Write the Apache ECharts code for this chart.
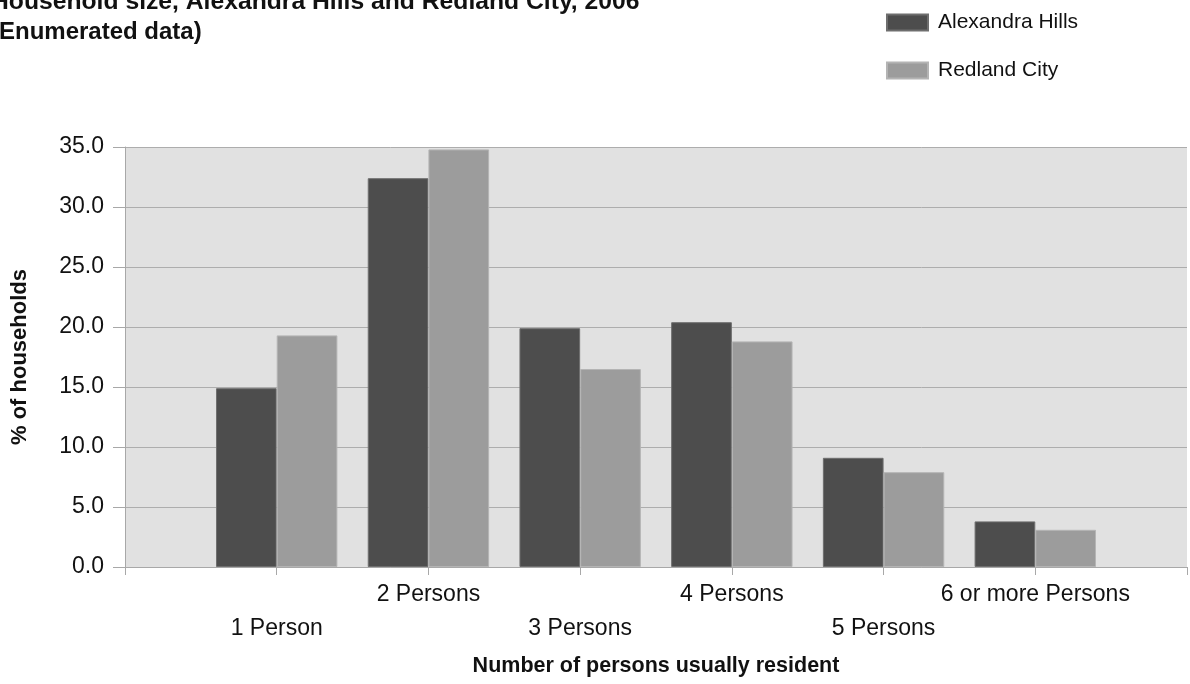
<!DOCTYPE html>
<html>
<head>
<meta charset="utf-8">
<script src="https://cdn.jsdelivr.net/npm/echarts@6/dist/echarts.min.js"></script>
<style>
  html, body { margin: 0; padding: 0; background: #ffffff; }
  #chart { width: 1190px; height: 684px; }
</style>
</head>
<body>
<div id="chart"></div>
<script>
var titleLine1 = 'Household size, Alexandra Hills and Redland City, 2006';
var titleLine2 = '(Enumerated data)';
var categories = ['1 Person', '2 Persons', '3 Persons', '4 Persons', '5 Persons', '6 or more Persons'];
var seriesNames = ['Alexandra Hills', 'Redland City'];
var alexandraHills = [14.9, 32.4, 19.9, 20.4, 9.1, 3.8];
var redlandCity = [19.3, 34.8, 16.5, 18.8, 7.9, 3.1];
var yTicks = { min: 0, max: 35, interval: 5 };
var xAxisName = 'Number of persons usually resident';
var yAxisName = '% of households';

// pad with empty slots at both ends of the category axis
var xCats = [''].concat(categories, ['']);
function pad(arr) { return [null].concat(arr, [null]); }

var chart = echarts.init(document.getElementById('chart'), null, { renderer: 'canvas' });
var font = 'Liberation Sans, Arial, sans-serif';
var textColor = '#111111';

chart.setOption({
  backgroundColor: '#ffffff',
  animation: false,
  title: [
    { text: titleLine1, left: -14, top: -15, padding: 5,
      textStyle: { fontFamily: font, fontSize: 24.7, fontWeight: 'bold', color: textColor } },
    { text: titleLine2, left: -14, top: 15, padding: 5,
      textStyle: { fontFamily: font, fontSize: 24, fontWeight: 'bold', color: textColor } }
  ],
  legend: {
    orient: 'vertical',
    left: 886,
    top: 12,
    padding: 0,
    itemWidth: 41,
    itemHeight: 16,
    itemGap: 27,
    icon: 'rect',
    textStyle: { fontFamily: font, fontSize: 21, color: textColor, padding: [0, 0, 4, 5] },
    data: seriesNames
  },
  grid: {
    left: 125, width: 1068, top: 147, bottom: 117,
    show: true, backgroundColor: '#e1e1e1', borderWidth: 0
  },
  xAxis: {
    type: 'category',
    data: xCats,
    boundaryGap: false,
    name: xAxisName,
    nameLocation: 'middle',
    nameGap: 88,
    nameTextStyle: { fontFamily: font, fontSize: 21.5, fontWeight: 'bold', color: textColor },
    axisLine: { lineStyle: { color: '#a8a8a8', width: 1 } },
    axisTick: { show: true, length: 8, interval: 0, lineStyle: { color: '#a8a8a8' } },
    splitLine: { show: false },
    axisLabel: {
      interval: 0,
      margin: 16,
      fontFamily: font, fontSize: 23, color: textColor,
      formatter: function (v, i) {
        if (!v) return '';
        return (i % 2 === 1) ? '{lo|' + v + '}' : '{hi|' + v + '}';
      },
      rich: {
        hi: { fontFamily: font, fontSize: 23, color: textColor, padding: [0, 0, 0, 0] },
        lo: { fontFamily: font, fontSize: 23, color: textColor, padding: [34, 0, 0, 0] }
      }
    }
  },
  yAxis: {
    type: 'value',
    min: yTicks.min, max: yTicks.max, interval: yTicks.interval,
    name: yAxisName,
    nameLocation: 'middle',
    nameGap: 94,
    nameRotate: 90,
    nameTextStyle: { fontFamily: font, fontSize: 22, fontWeight: 'bold', color: textColor },
    axisLine: { show: true, lineStyle: { color: '#a8a8a8', width: 1 } },
    axisTick: { show: true, length: 12, lineStyle: { color: '#a8a8a8' } },
    splitLine: { show: true, lineStyle: { color: '#adadad', width: 1 } },
    axisLabel: {
      margin: 21,
      fontFamily: font, fontSize: 23, color: textColor,
      formatter: function (v) { return v.toFixed(1); }
    }
  },
  series: [
    {
      name: seriesNames[0], type: 'bar', data: pad(alexandraHills),
      barWidth: '40%', barGap: '0%',
      itemStyle: { color: '#4d4d4d', borderColor: '#6e6e6e', borderWidth: 1 }
    },
    {
      name: seriesNames[1], type: 'bar', data: pad(redlandCity),
      barWidth: '40%', barGap: '0%',
      itemStyle: { color: '#9c9c9c', borderColor: '#b4b4b4', borderWidth: 1 }
    }
  ]
});
</script>
</body>
</html>
